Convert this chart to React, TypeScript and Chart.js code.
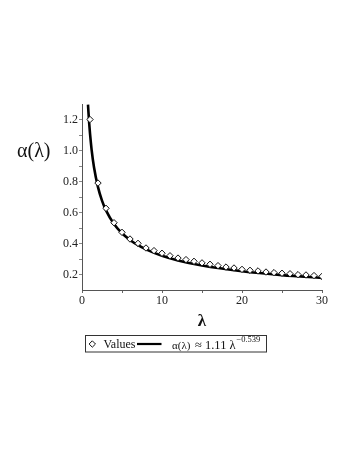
import React, { useEffect, useRef } from "react";
import { Chart, registerables } from "chart.js";

Chart.register(...registerables);

// Measured values (diamonds) at integer lambda
const lambdas = [1, 2, 3, 4, 5, 6, 7, 8, 9, 10, 11, 12, 13, 14, 15, 16, 17, 18, 19, 20, 21, 22, 23, 24, 25, 26, 27, 28, 29, 30];
const values = [1.2, 0.79, 0.627, 0.534, 0.472, 0.429, 0.401, 0.371, 0.354, 0.337, 0.321, 0.306, 0.296, 0.285, 0.275, 0.266, 0.257, 0.248, 0.242, 0.233, 0.227, 0.223, 0.216, 0.212, 0.208, 0.205, 0.199, 0.197, 0.193, 0.188];

// Fitted curve alpha(lambda) ≈ 1.11 λ^-0.539
const fitX = [0.75, 0.8, 0.9, 1, 1.2, 1.5, 2, 2.5, 3, 4, 5, 6, 7, 8, 10, 12, 15, 20, 25, 30];
const fitY = [1.296, 1.252, 1.175, 1.11, 1.006, 0.892, 0.764, 0.677, 0.614, 0.526, 0.466, 0.423, 0.389, 0.362, 0.321, 0.291, 0.258, 0.221, 0.196, 0.178];

const xTicks = [0, 5, 10, 15, 20, 25, 30];
const xLabels = [0, 10, 20, 30];
const yTicks = [0.2, 0.3, 0.4, 0.5, 0.6, 0.7, 0.8, 0.9, 1.0, 1.1, 1.2];
const yLabels = [0.2, 0.4, 0.6, 0.8, 1.0, 1.2];

const seriesName = "Values";
const yTitle = "α(λ)";
const xTitle = "λ";
const fitLhs = "α(λ)";
const fitRhs = "≈ 1.11 λ";
const fitExp = "−0.539";

const SERIF = "'Liberation Serif', 'DejaVu Serif', serif";

const overlay = {
  id: "overlay",
  afterDraw(chart: any) {
    const ctx = chart.ctx as CanvasRenderingContext2D;
    ctx.save();
    // y title
    ctx.fillStyle = "#111";
    ctx.font = `20px ${SERIF}`;
    ctx.textAlign = "left";
    ctx.textBaseline = "middle";
    ctx.fillText(yTitle, 17, 152);
    // x title
    ctx.font = `bold 17px ${SERIF}`;
    ctx.textAlign = "center";
    ctx.fillText(xTitle, 202, 322);

    // legend box
    const bx = 85.5, by = 335.5, bw = 181, bh = 16.5;
    ctx.strokeStyle = "#333";
    ctx.lineWidth = 1;
    ctx.strokeRect(bx, by, bw, bh);
    const cy = 344;
    // diamond
    ctx.beginPath();
    ctx.moveTo(92.3, cy - 3.2);
    ctx.lineTo(95.5, cy);
    ctx.lineTo(92.3, cy + 3.2);
    ctx.lineTo(89.1, cy);
    ctx.closePath();
    ctx.fillStyle = "#fff";
    ctx.fill();
    ctx.strokeStyle = "#111";
    ctx.stroke();
    // Values text
    ctx.fillStyle = "#111";
    ctx.font = `12px ${SERIF}`;
    ctx.textAlign = "left";
    ctx.textBaseline = "alphabetic";
    ctx.fillText(seriesName, 103.5, 348);
    // line sample
    ctx.beginPath();
    ctx.moveTo(137, cy);
    ctx.lineTo(161.5, cy);
    ctx.lineWidth = 2.2;
    ctx.strokeStyle = "#000";
    ctx.stroke();
    // formula
    ctx.font = `11px ${SERIF}`;
    ctx.fillText(fitLhs, 172, 348.5);
    ctx.font = `12.5px ${SERIF}`;
    ctx.fillText(fitRhs, 195, 348.5);
    const w = ctx.measureText(fitRhs).width;
    ctx.font = `8.5px ${SERIF}`;
    ctx.fillText(fitExp, 195 + w + 0.8, 341.5);
    ctx.restore();
  },
};

export default function App() {
  const ref = useRef<HTMLCanvasElement | null>(null);

  useEffect(() => {
    if (!ref.current) return;
    const chart = new Chart(ref.current, {
      type: "scatter",
      data: {
        datasets: [
          {
            label: seriesName,
            data: lambdas.map((x, i) => ({ x, y: values[i] })),
            pointStyle: "rectRot",
            pointRadius: 3.2,
            pointBorderWidth: 1,
            pointBackgroundColor: "#fff",
            pointBorderColor: "#111",
            showLine: false,
            order: 0,
          },
          {
            label: "fit",
            data: fitX.map((x, i) => ({ x, y: fitY[i] })),
            showLine: true,
            borderColor: "#000",
            borderWidth: 2.6,
            pointRadius: 0,
            cubicInterpolationMode: "monotone",
            order: 1,
          },
        ],
      },
      options: {
        responsive: false,
        animation: false,
        layout: { padding: { top: 104, right: 27, left: 0, bottom: 0 } },
        plugins: { legend: { display: false }, tooltip: { enabled: false } },
        scales: {
          x: {
            type: "linear",
            min: 0,
            max: 30,
            afterFit: (s: any) => {
              s.height = 161;
            },
            afterBuildTicks: (s: any) => {
              s.ticks = xTicks.map((v) => ({ value: v }));
            },
            ticks: {
              autoSkip: false,
              maxRotation: 0,
              padding: 1,
              color: "#222",
              font: { family: SERIF, size: 12 },
              callback: (v: any) => (xLabels.includes(Number(v)) ? String(v) : ""),
            },
            grid: { drawOnChartArea: false, tickLength: 3, color: "#666" },
            border: { display: true, color: "#555", width: 1 },
          },
          y: {
            type: "linear",
            min: 0.1,
            max: 1.3,
            afterFit: (s: any) => {
              s.width = 82;
            },
            afterBuildTicks: (s: any) => {
              s.ticks = yTicks.map((v) => ({ value: v }));
            },
            ticks: {
              autoSkip: false,
              padding: 1,
              color: "#222",
              font: { family: SERIF, size: 12 },
              callback: (v: any) => {
                const n = Number(v);
                return yLabels.some((l) => Math.abs(l - n) < 1e-6) ? n.toFixed(1) : "";
              },
            },
            grid: { drawOnChartArea: false, tickLength: 3, color: "#888" },
            border: { display: true, color: "#555", width: 1 },
          },
        },
      },
      plugins: [overlay],
    });
    return () => chart.destroy();
  }, []);

  return (
    <div style={{ position: "fixed", left: 0, top: 0, width: 349, height: 451, background: "#fff" }}>
      <canvas ref={ref} width={349} height={451} style={{ display: "block", width: 349, height: 451 }} />
    </div>
  );
}
